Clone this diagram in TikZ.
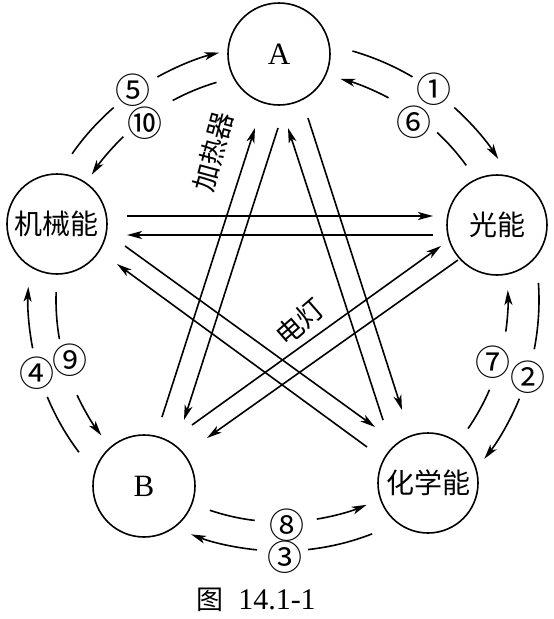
\documentclass[tikz,border=0pt]{standalone}
\usepackage{fontspec}
\setmainfont{Liberation Serif}
\newfontfamily\cjk{Noto Sans CJK SC}
\usetikzlibrary{arrows.meta,calc}
\begin{document}
\begin{tikzpicture}[x=1pt,y=-1pt,line width=1.6pt,
  en/.style={circle,draw,minimum size=100pt,inner sep=0pt,font=\cjk\fontsize{28}{28}\selectfont},
  lt/.style={circle,draw,minimum size=102pt,inner sep=0pt,font=\fontsize{31}{31}\selectfont},
  arr/.style={-{Stealth[length=15pt,width=8pt,inset=4pt]}},
  num/.style={font=\cjk\fontsize{35}{35}\selectfont,inner sep=0pt},
  lab/.style={font=\cjk\fontsize{27}{27}\selectfont,inner sep=0pt}]
\useasboundingbox (0,0) rectangle (554,619);
\coordinate (O) at (281,300);
% nodes
\node[lt] (A) at (279,54) {A};
\node[en] (J) at (57,224) {机械能};
\node[en] (G) at (497,225) {光能};
\node[lt] (B) at (144,486) {B};
\node[en] (H) at (428,483) {化学能};
% straight connectors
\draw[arr] ($(J)+(70,-8)$) -- ($(G)+(-64,-9)$);
\draw[arr] ($(G)+(-64,10)$) -- ($(J)+(70,11)$);
\draw[arr] ($(J)+(68,22)$) -- ($(H)+(-53,-56)$);
\draw[arr] ($(H)+(-61,-36)$) -- ($(J)+(60,40)$);
\draw[arr] ($(A)+(-1,74)$) -- ($(B)+(40,-66)$);
\draw[arr] ($(B)+(18,-69)$) -- ($(A)+(-24,74)$);
\draw[arr] ($(H)+(-45,-63)$) -- ($(A)+(9,74)$);
\draw[arr] ($(A)+(29,64)$) -- ($(H)+(-26,-73)$);
\draw[arr] ($(B)+(48,-61)$) -- ($(G)+(-56,21)$);
\draw[arr] ($(G)+(-39,35)$) -- ($(B)+(63,-48)$);
% arcs: 5 outer (J->A)
\draw ($(O)+(-145:255)$) arc[start angle=-145,end angle=-131,radius=255];
\draw[arr] ($(O)+(-119:255)$) arc[start angle=-119,end angle=-104,radius=255];
% 10 inner (A->J)
\draw ($(O)+(-106.5:227)$) arc[start angle=-106.5,end angle=-118.5,radius=227];
\draw[arr] ($(O)+(-134:227)$) arc[start angle=-134,end angle=-146.5,radius=227];
% 1 outer (A->G)
\draw ($(O)+(-74:259)$) arc[start angle=-74,end angle=-59.5,radius=259];
\draw[arr] ($(O)+(-48:259)$) arc[start angle=-48,end angle=-33,radius=259];
% 6 inner (G->A)
\draw ($(O)+(-36:229)$) arc[start angle=-36,end angle=-47,radius=229];
\draw[arr] ($(O)+(-62:229)$) arc[start angle=-62,end angle=-75,radius=229];
% 2 outer (G->H)
\draw ($(O)+(-3.8:258)$) arc[start angle=-3.8,end angle=11,radius=258];
\draw[arr] ($(O)+(22.5:258)$) arc[start angle=22.5,end angle=38,radius=258];
% 7 inner (H->G)
\draw ($(O)+(34.5:227)$) arc[start angle=34.5,end angle=23.3,radius=227];
\draw[arr] ($(O)+(8:227)$) arc[start angle=8,end angle=-2.5,radius=227];
% 3 outer (H->B)
\draw ($(O)+(68.7:251)$) arc[start angle=68.7,end angle=83.8,radius=251];
\draw[arr] ($(O)+(95.5:251)$) arc[start angle=95.5,end angle=111,radius=251];
% 8 inner (B->H)
\draw ($(O)+(108.7:222)$) arc[start angle=108.7,end angle=96.8,radius=222];
\draw[arr] ($(O)+(80.7:222)$) arc[start angle=80.7,end angle=67.3,radius=222];
% 4 outer (B->J)
\draw ($(O)+(143:253)$) arc[start angle=143,end angle=157.5,radius=253];
\draw[arr] ($(O)+(169:253)$) arc[start angle=169,end angle=183,radius=253];
% 9 inner (J->B)
\draw ($(O)+(182:225)$) arc[start angle=182,end angle=170,radius=225];
\draw[arr] ($(O)+(155:225)$) arc[start angle=155,end angle=143,radius=225];
% circled numbers
\node[num] (n5) at (133,90) {⑤};
\node[num] (n10) at (145,123) {⑩};
\node[num] (n1) at (434,89) {①};
\node[num] (n6) at (414,122) {⑥};
\node[num] (n2) at (528,377) {②};
\node[num] (n7) at (493,362) {⑦};
\node[num] (n3) at (285,557) {③};
\node[num] (n8) at (287,525) {⑧};
\node[num] (n4) at (37,373) {④};
\node[num] (n9) at (70,360) {⑨};
% labels
\node[lab,rotate=75] (heat) at (213,152) {加热器};
\node[lab,rotate=41] (lamp) at (300,322) {电灯};
% caption
\node[lab] (cap1) at (210,600) {图};
\node[inner sep=0pt,font=\fontsize{30}{30}\selectfont] (cap2) at (277,600) {14.1-1};
\end{tikzpicture}
\end{document}
